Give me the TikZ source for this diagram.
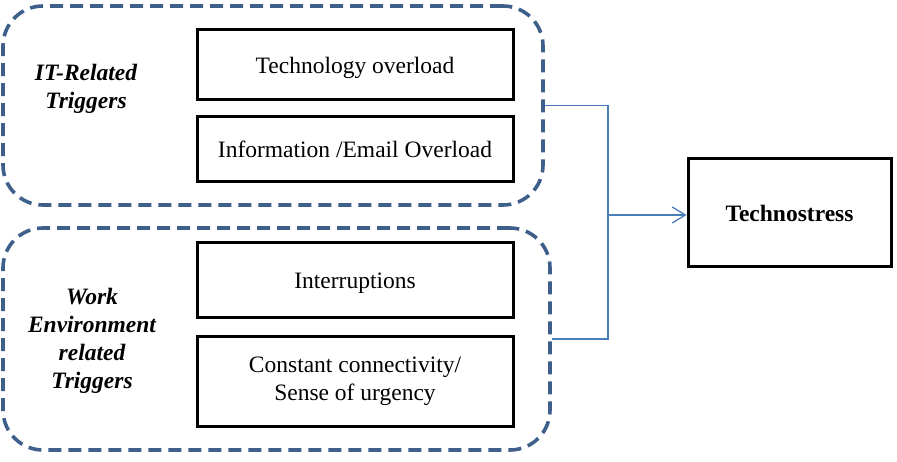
\documentclass[tikz,border=0pt]{standalone}
\usepackage{fontspec}
\setmainfont{Liberation Serif}
\usepackage{tikz}
\usepackage{xcolor}
\usetikzlibrary{positioning,arrows.meta}

\definecolor{grpblue}{HTML}{3E5F8A}
\definecolor{linkblue}{HTML}{4A7EBB}

\begin{document}
\begin{tikzpicture}[x=1pt, y=-1pt,
    every node/.style={font=\fontsize{23.5pt}{28pt}\selectfont},
    group/.style={draw=grpblue, line width=3.6pt, dash pattern=on 13pt off 7pt, rounded corners=40pt, minimum width=#1},
    trig/.style={draw, line width=3pt, minimum width=316pt, align=center, inner sep=0pt},
    grplabel/.style={font=\fontsize{23.5pt}{28pt}\selectfont\bfseries\itshape, align=center},
    link/.style={draw=linkblue, line width=1.3pt}]
      %\draw [dotted] (0,0) grid [step=50] (897,462);
      \useasboundingbox (0,0) rectangle (897,462);
      \node [group=540pt, minimum height=199pt]  (itgrp) at (273, 105.5) {};
      \node [group=547pt, minimum height=222pt] (wrkgrp) at (276.5, 339) {};
      \node [grplabel]                             (itl) at ( 86,  89) {IT-Related\\Triggers};
      \node [grplabel]                            (wrkl) at ( 92, 341) {Work\\Environment\\related\\Triggers};
      \node [trig, minimum height=70pt, text depth=0pt] (techov) at (355, 65) {Technology overload};
      \node [trig, minimum height=65pt, text depth=0pt] (infoov) at (355, 149.5) {Information /Email Overload};
      \node [trig, minimum height=75pt, text depth=0pt] (interr) at (355, 280.5) {Interruptions};
      \node [trig, minimum height=89pt]                  (connv) at (355, 381.5) {Constant connectivity/\\Sense of urgency};
      \node [draw, line width=3pt, minimum width=203pt, minimum height=108pt, inner sep=0pt, text depth=0pt,
             font=\fontsize{23.5pt}{28pt}\selectfont\bfseries] (tstress) at (789.5, 213) {Technostress};
      \coordinate (jn) at (608, 215);
      \draw [link] (itgrp.east) -| (jn) |- (wrkgrp.east);
      \draw [link, -{Straight Barb[length=13pt, width=16pt]}] (jn) -- (tstress.west |- jn);
\end{tikzpicture}
\end{document}
